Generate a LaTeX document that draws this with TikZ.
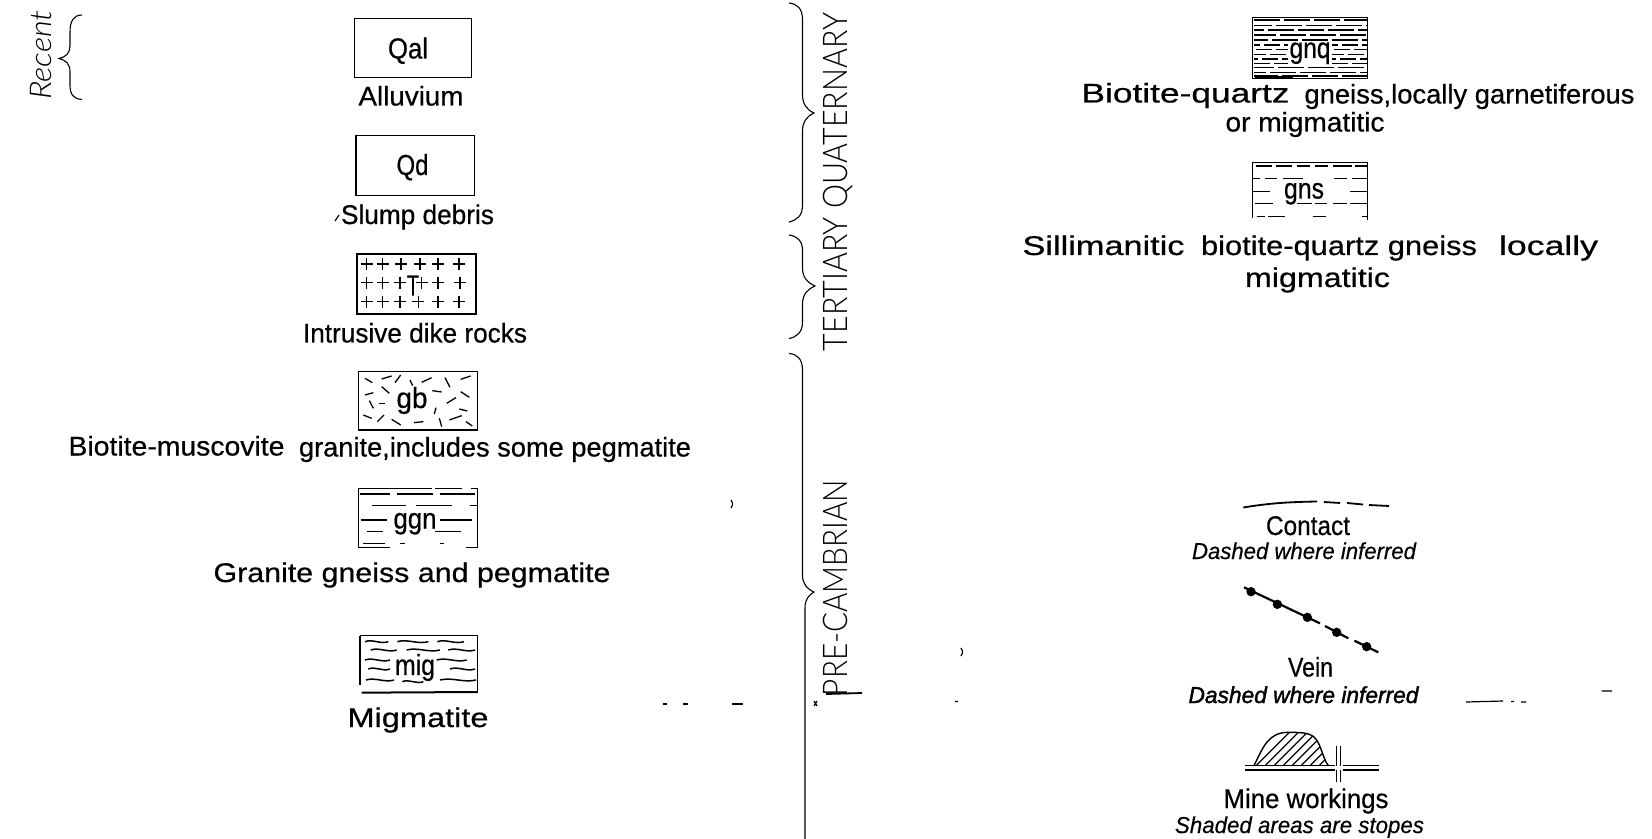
\documentclass[tikz,border=0pt]{standalone}
\usepackage{fontspec}
\usepackage{graphicx}
\setmainfont{Liberation Sans}
\newfontfamily\mainf[FakeBold=0.5]{Liberation Sans}
\newfontfamily\fakebd[FakeBold=1.6]{Liberation Sans}
\newfontfamily\lgt{Lato Light}
\newlength\tw
\newcommand\fitw[2]{\settowidth\tw{#2}\pgfmathsetmacro\sx{#1*0.5/\tw}\scalebox{\sx}[1]{#2}}
\newcommand\rmf{\fontsize{13.5}{15}\mainf}
\newcommand\bxf{\fontsize{14.5}{16}\mainf}
\newcommand\itf{\fontsize{11.5}{14}\mainf\itshape}
\newcommand\itb{\fontsize{11.5}{14}\fakebd\itshape}
\newcommand\lab[5]{\node[txt] (#1) at (#2,#3) {\fitw{#4}{#5}};}
\tikzset{
  txt/.style={anchor=base,inner sep=0pt,outer sep=0pt,text=black},
  boxl/.style={draw=black,line width=0.65pt},
  thin line/.style={draw=black,line width=0.55pt},
  ink/.style={draw=black,line width=0.65pt},
  wav/.style={draw=black,line width=0.75pt},
  brc/.style={draw=black,line width=0.55pt},
  noise/.style={draw=black,line width=0.6pt},
}
\begin{document}
\begin{tikzpicture}[x=0.5pt,y=-0.5pt]
\path[use as bounding box,fill=white] (0,0) rectangle (1652,839);
% Recent
\node[txt,rotate=90] (recent) at (51,55) {\fitw{90}{\fontsize{15}{17}\selectfont\itshape\lgt Recent}};
\draw[brc] (82,15) .. controls (73,15) and (70,22) .. (70,32) -- (70,46) .. controls (70,53) and (66,57) .. (59,58.5) .. controls (66,60) and (70,64) .. (70,72) -- (70,85) .. controls (70,94) and (73,99) .. (82,99.5);
% era braces
\draw[brc] (789,3) .. controls (797,4) and (802.5,8) .. (802.5,20) -- (802.5,95) .. controls (802.5,104) and (807,110) .. (814,113) .. controls (807,116) and (802.5,122) .. (802.5,131) -- (802.5,205) .. controls (802.5,216) and (797,220) .. (789,222);
\draw[brc] (789,235) .. controls (797,236) and (802.5,241) .. (802.5,250) -- (802.5,268) .. controls (802.5,278) and (808,283) .. (815,286) .. controls (808,289) and (802.5,294) .. (802.5,304) -- (802.5,322) .. controls (802.5,332) and (797,337) .. (789,338.5);
\draw[brc] (789,353.5) .. controls (797,354) and (802.5,359) .. (802.5,370) -- (802.5,575) .. controls (802.5,584) and (807,589) .. (814,592) .. controls (809,595) and (805,599) .. (805,608) -- (805,839);
\node[txt,rotate=90] (tq) at (847,182) {\fitw{338}{\fontsize{17}{20}\selectfont\lgt TERTIARY QUATERNARY}};
\node[txt,rotate=90] (pc) at (847,588) {\fitw{216}{\fontsize{17}{20}\selectfont\lgt PRE-CAMBRIAN}};
% Qal
\draw[boxl] (354.6,18.3) rectangle (471.6,77.7);
\lab{qal}{408}{58.5}{40}{\bxf Qal}
\lab{alluvium}{411}{105.5}{105}{\rmf Alluvium}
% Qd
\draw[boxl] (356,135.5) rectangle (474.7,195.7);
\lab{qd}{412.5}{175}{32}{\bxf Qd}
\draw[noise] (335,221) -- (339,215);
\lab{slump}{417.5}{224}{153}{\rmf Slump debris}
% T
\draw[boxl] (357,254) rectangle (476,314);
\foreach \x/\y in {366.7/264,382.7/264,401/264,420/264,438/264,459/264,
  366.7/282.7,382.7/282.7,400/282.7,421.7/282.7,438/282.7,460/282.7,
  366.7/301.7,382.7/301.7,400/301.7,418.3/301.7,438/301.7,459/301.7}
  \draw[thin line] (\x-6,\y) -- (\x+6,\y) (\x,\y-6) -- (\x,\y+6);
\lab{t}{413}{295.5}{12}{\bxf T}
\lab{intrusive}{415}{342.5}{224}{\rmf Intrusive dike rocks}
% gb
\draw[boxl] (358.3,371.7) rectangle (477.7,430);
\begin{scope}[shift={(340,240)},scale=1/3]
\foreach \a/\b/\c/\d in {75/415/97/428,125/417/155/408,165/428/182/405,210/420/218/437,245/427/275/413,315/413/330/442,362/418/392/408,75/465/100/458,125/440/148/460,88/482/100/505,118/490/135/490,277/452/305/456,320/490/348/473,362/455/388/472,288/503/283/522,358/507/382/513,70/525/95/535,112/545/132/525,155/538/182/555,222/548/250/545,298/535/305/560,328/540/365/527,378/545/397/558}
  \draw[ink] (\a,\b) -- (\c,\d);
\end{scope}
\lab{gb}{412}{408}{31}{\bxf gb}
\lab{biomus}{176.5}{455.5}{216}{\rmf Biotite-muscovite}
\lab{biomusb}{495}{456.5}{392}{\rmf granite,includes some pegmatite}
% ggn
\begin{scope}[shift={(340,480)},scale=1/3]
\draw[boxl] (55,25) -- (55,203) (413,25) -- (413,205);
\foreach \a/\b/\y in {55/275/25,285/365/25,393/413/25,60/150/42,170/278/42,300/405/42,95/198/77,228/337/77,390/410/77,62/140/120,300/395/120,80/130/155,285/362/155,70/135/190,180/195/190,300/312/190,55/150/203,378/413/203}
  \draw[ink] (\a,\y) -- (\b,\y);
\end{scope}
\lab{ggn}{415}{528.5}{43}{\bxf ggn}
\lab{granite}{412}{582}{397}{\rmf Granite gneiss and pegmatite}
% mig
\begin{scope}[shift={(340,480)},scale=1/3]
\draw[boxl] (60,467) -- (413,467) (60,467) -- (60,615) (413,467) -- (413,638);
\draw[draw=black,line width=1pt] (65,638) -- (413,636);
\foreach \a/\b/\y in {75/145/485,172/265/485,292/372/485,92/170/510,200/300/510,325/405/510,75/150/540,290/380/540,85/150/567,330/405/567,78/162/600,187/250/605,300/408/600}
  \draw[wav] (\a,\y) .. controls ({\a+(\b-\a)/3},\y-9) and ({\a+2*(\b-\a)/3},\y+9) .. (\b,\y);
\end{scope}
\lab{mig}{415}{675}{40}{\bxf mig}
\lab{migmatite}{418}{727}{141}{\rmf Migmatite}
% gnq
\begin{scope}[shift={(1240,10)},scale=1/3]
\draw[boxl] (38,22) rectangle (383,205);
\foreach \y/\ph in {30/0,47/4,60/8,75/2,90/6,172/3,187/7,198/1}
  \draw[draw=black,line width=0.6pt,dash pattern=on 13pt off 2pt,dash phase=\ph pt] (42,\y) -- (380,\y);
\foreach \y/\ph in {105/5,118/9,133/2,147/6,160/0}{
  \draw[draw=black,line width=0.6pt,dash pattern=on 8pt off 2pt,dash phase=\ph pt] (42,\y) -- (143,\y);
  \draw[draw=black,line width=0.6pt,dash pattern=on 8pt off 2pt,dash phase=\ph pt] (276,\y) -- (380,\y);
}
\draw[draw=black,line width=1.2pt] (45,203) -- (160,203);
\end{scope}
\lab{gnq}{1310}{58}{41}{\bxf gnq}
\lab{bqa}{1185.5}{102.5}{208}{\rmf Biotite-quartz}
\lab{bqb}{1469.5}{103.5}{330}{\rmf gneiss,locally garnetiferous}
\lab{ormig}{1305}{131.5}{159}{\rmf or migmatitic}
% gns
\begin{scope}[shift={(1240,10)},scale=1/3]
\draw[boxl] (38,457) -- (383,457) (38,457) -- (38,625) (383,457) -- (383,630);
\foreach \a/\b/\y in {48/95/468,108/155/468,170/210/468,225/265/468,280/335/468,345/383/468,40/60/505,75/110/505,130/190/505,283/320/505,335/383/505,40/90/545,330/383/545,45/100/580,170/215/580,225/260/580,280/320/580,330/383/580,50/75/620,85/135/620,218/258/620,365/383/620}
  \draw[ink] (\a,\y) -- (\b,\y);
\end{scope}
\lab{gns}{1304}{198.5}{40}{\bxf gns}
\lab{sila}{1103.5}{255}{162}{\rmf Sillimanitic}
\lab{silb}{1339}{255}{276}{\rmf biotite-quartz gneiss}
\lab{silc}{1548.5}{255}{99}{\rmf locally}
\lab{migm}{1317.5}{287}{145}{\rmf migmatitic}
% contact
\draw[draw=black,line width=0.9pt] (1243.3,507.5) .. controls (1270,503) and (1290,502) .. (1317,501.5);
\draw[draw=black,line width=0.9pt] (1324,502) -- (1340,503) (1347,503) -- (1363,504.5) (1369,505) -- (1389,506);
\lab{contact}{1308}{535}{84}{\rmf Contact}
\lab{dwia}{1304}{559}{224}{\itf Dashed where inferred}
% vein
\begin{scope}[shift={(1220,570)},scale=1/3]
\draw[draw=black,line width=1.1pt] (72,52) -- (300,160) (315,168) -- (385,205) (403,212) -- (475,247);
\foreach \x/\y in {93/65,172/103,262/142,350/187,440/230} \fill[black] (\x,\y) circle (14);
\end{scope}
\lab{vein}{1310.5}{676.5}{45}{\rmf Vein}
\lab{dwib}{1303.5}{703}{230}{\itb Dashed where inferred}
% mine
\begin{scope}[shift={(1220,725)},scale=1/3]
\draw[draw=black,line width=0.7pt] (102,122) .. controls (130,65) and (145,22) .. (205,22) .. controls (265,22) and (285,25) .. (300,65) .. controls (310,90) and (315,110) .. (325,122);
\begin{scope}
\clip (102,122) .. controls (130,65) and (145,22) .. (205,22) .. controls (265,22) and (285,25) .. (300,65) .. controls (310,90) and (315,110) .. (325,122) -- cycle;
\foreach \x in {100,127,...,340} \draw[draw=black,line width=0.6pt] (\x,130) -- (\x+120,10);
\end{scope}
\draw[draw=black,line width=0.65pt] (75,122) -- (345,122) (368,122) -- (478,122) (75,135) -- (345,135) (368,135) -- (478,135) (350,64) -- (350,122) (362,64) -- (362,122) (350,135) -- (350,172) (362,135) -- (362,172);
\end{scope}
\lab{mine}{1306}{808}{165}{\rmf Mine workings}
\lab{shaded}{1299.5}{833}{249}{\itf Shaded areas are stopes}
% stray printing marks
\draw[noise] (663,704) -- (667,704) (683,704) -- (688,704) (732,704) -- (743,704);
\draw[noise] (814,701) -- (817,706) (817,701) -- (814,706);
\draw[draw=black,line width=0.9pt] (826,694) -- (862,693);
\draw[noise] (955,701.5) -- (958,701.5) (1466,702) -- (1503,701) (1511,701.5) -- (1514,701.5) (1521,702) -- (1526,702) (1601.5,691) -- (1612,691);
\draw[noise] (731,500) .. controls (733,503) and (733,505) .. (731,508);
\draw[noise] (961,648) .. controls (963,651) and (963,653) .. (961,656);
\end{tikzpicture}
\end{document}
